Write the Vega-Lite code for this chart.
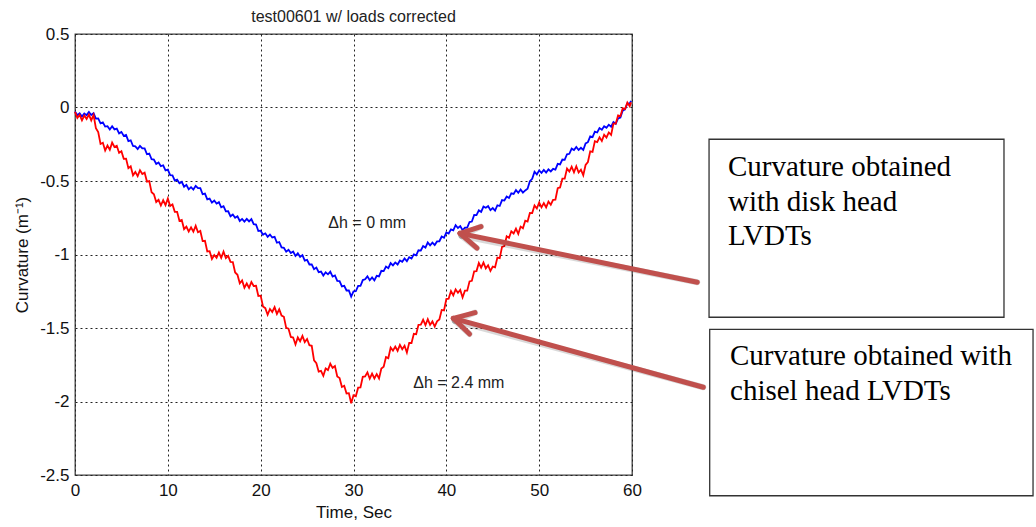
{
"$schema": "https://vega.github.io/schema/vega-lite/v6.json",
"width": 557, "height": 441,
"autosize": {"type": "none"},
"padding": {"left": 75, "top": 34, "right": 404, "bottom": 52},
"background": "white",
"config": {"view": {"stroke": "#404040", "strokeWidth": 1.3}, "font": "Liberation Sans"},
"title": {"text": "test00601 w/ loads corrected", "fontSize": 16, "fontWeight": "normal", "color": "#222222", "offset": 0, "font": "Liberation Sans"},
"datasets": {
"disk": [
{"t":0,"c":-0.028},{"t":0.25,"c":-0.052},{"t":0.5,"c":-0.039},{"t":0.75,"c":-0.061},{"t":1,"c":-0.041},{"t":1.25,"c":-0.052},{"t":1.5,"c":-0.031},{"t":1.75,"c":-0.051},
{"t":2,"c":-0.039},{"t":2.25,"c":-0.075},{"t":2.5,"c":-0.074},{"t":2.75,"c":-0.108},{"t":3,"c":-0.101},{"t":3.25,"c":-0.130},{"t":3.5,"c":-0.127},{"t":3.75,"c":-0.150},
{"t":4,"c":-0.128},{"t":4.25,"c":-0.149},{"t":4.5,"c":-0.144},{"t":4.75,"c":-0.176},{"t":5,"c":-0.166},{"t":5.25,"c":-0.193},{"t":5.5,"c":-0.187},{"t":5.75,"c":-0.228},
{"t":6,"c":-0.223},{"t":6.25,"c":-0.262},{"t":6.5,"c":-0.264},{"t":6.75,"c":-0.283},{"t":7,"c":-0.261},{"t":7.25,"c":-0.278},{"t":7.5,"c":-0.278},{"t":7.75,"c":-0.318},
{"t":8,"c":-0.313},{"t":8.25,"c":-0.352},{"t":8.5,"c":-0.354},{"t":8.75,"c":-0.384},{"t":9,"c":-0.374},{"t":9.25,"c":-0.399},{"t":9.5,"c":-0.393},{"t":9.75,"c":-0.428},
{"t":10,"c":-0.423},{"t":10.25,"c":-0.460},{"t":10.5,"c":-0.461},{"t":10.75,"c":-0.497},{"t":11,"c":-0.491},{"t":11.25,"c":-0.515},{"t":11.5,"c":-0.506},{"t":11.75,"c":-0.539},
{"t":12,"c":-0.526},{"t":12.25,"c":-0.557},{"t":12.5,"c":-0.542},{"t":12.75,"c":-0.558},{"t":13,"c":-0.533},{"t":13.25,"c":-0.549},{"t":13.5,"c":-0.549},{"t":13.75,"c":-0.590},
{"t":14,"c":-0.586},{"t":14.25,"c":-0.625},{"t":14.5,"c":-0.620},{"t":14.75,"c":-0.647},{"t":15,"c":-0.633},{"t":15.25,"c":-0.654},{"t":15.5,"c":-0.644},{"t":15.75,"c":-0.679},
{"t":16,"c":-0.671},{"t":16.25,"c":-0.707},{"t":16.5,"c":-0.706},{"t":16.75,"c":-0.740},{"t":17,"c":-0.728},{"t":17.25,"c":-0.750},{"t":17.5,"c":-0.740},{"t":17.75,"c":-0.772},
{"t":18,"c":-0.758},{"t":18.25,"c":-0.776},{"t":18.5,"c":-0.758},{"t":18.75,"c":-0.775},{"t":19,"c":-0.759},{"t":19.25,"c":-0.794},{"t":19.5,"c":-0.796},{"t":19.75,"c":-0.840},
{"t":20,"c":-0.838},{"t":20.25,"c":-0.865},{"t":20.5,"c":-0.856},{"t":20.75,"c":-0.880},{"t":21,"c":-0.864},{"t":21.25,"c":-0.884},{"t":21.5,"c":-0.880},{"t":21.75,"c":-0.920},
{"t":22,"c":-0.915},{"t":22.25,"c":-0.952},{"t":22.5,"c":-0.954},{"t":22.75,"c":-0.981},{"t":23,"c":-0.968},{"t":23.25,"c":-0.990},{"t":23.5,"c":-0.980},{"t":23.75,"c":-1.010},
{"t":24,"c":-0.992},{"t":24.25,"c":-1.016},{"t":24.5,"c":-1.004},{"t":24.75,"c":-1.041},{"t":25,"c":-1.036},{"t":25.25,"c":-1.068},{"t":25.5,"c":-1.067},{"t":25.75,"c":-1.100},
{"t":26,"c":-1.089},{"t":26.25,"c":-1.120},{"t":26.5,"c":-1.116},{"t":26.75,"c":-1.143},{"t":27,"c":-1.121},{"t":27.25,"c":-1.135},{"t":27.5,"c":-1.117},{"t":27.75,"c":-1.150},
{"t":28,"c":-1.143},{"t":28.25,"c":-1.180},{"t":28.5,"c":-1.181},{"t":28.75,"c":-1.217},{"t":29,"c":-1.213},{"t":29.25,"c":-1.245},{"t":29.5,"c":-1.245},{"t":29.75,"c":-1.286},
{"t":30,"c":-1.251},{"t":30.25,"c":-1.250},{"t":30.5,"c":-1.214},{"t":30.75,"c":-1.214},{"t":31,"c":-1.174},{"t":31.25,"c":-1.169},{"t":31.5,"c":-1.149},{"t":31.75,"c":-1.175},
{"t":32,"c":-1.156},{"t":32.25,"c":-1.176},{"t":32.5,"c":-1.145},{"t":32.75,"c":-1.149},{"t":33,"c":-1.111},{"t":33.25,"c":-1.113},{"t":33.5,"c":-1.082},{"t":33.75,"c":-1.093},
{"t":34,"c":-1.058},{"t":34.25,"c":-1.074},{"t":34.5,"c":-1.054},{"t":34.75,"c":-1.068},{"t":35,"c":-1.041},{"t":35.25,"c":-1.050},{"t":35.5,"c":-1.027},{"t":35.75,"c":-1.045},
{"t":36,"c":-1.018},{"t":36.25,"c":-1.027},{"t":36.5,"c":-0.999},{"t":36.75,"c":-1.006},{"t":37,"c":-0.971},{"t":37.25,"c":-0.973},{"t":37.5,"c":-0.942},{"t":37.75,"c":-0.953},
{"t":38,"c":-0.918},{"t":38.25,"c":-0.937},{"t":38.5,"c":-0.919},{"t":38.75,"c":-0.936},{"t":39,"c":-0.911},{"t":39.25,"c":-0.910},{"t":39.5,"c":-0.878},{"t":39.75,"c":-0.886},
{"t":40,"c":-0.850},{"t":40.25,"c":-0.857},{"t":40.5,"c":-0.829},{"t":40.75,"c":-0.836},{"t":41,"c":-0.801},{"t":41.25,"c":-0.820},{"t":41.5,"c":-0.807},{"t":41.75,"c":-0.835},
{"t":42,"c":-0.818},{"t":42.25,"c":-0.817},{"t":42.5,"c":-0.779},{"t":42.75,"c":-0.776},{"t":43,"c":-0.731},{"t":43.25,"c":-0.732},{"t":43.5,"c":-0.700},{"t":43.75,"c":-0.710},
{"t":44,"c":-0.674},{"t":44.25,"c":-0.682},{"t":44.5,"c":-0.671},{"t":44.75,"c":-0.698},{"t":45,"c":-0.684},{"t":45.25,"c":-0.701},{"t":45.5,"c":-0.665},{"t":45.75,"c":-0.670},
{"t":46,"c":-0.630},{"t":46.25,"c":-0.633},{"t":46.5,"c":-0.606},{"t":46.75,"c":-0.616},{"t":47,"c":-0.584},{"t":47.25,"c":-0.588},{"t":47.5,"c":-0.561},{"t":47.75,"c":-0.580},
{"t":48,"c":-0.558},{"t":48.25,"c":-0.579},{"t":48.5,"c":-0.564},{"t":48.75,"c":-0.553},{"t":49,"c":-0.501},{"t":49.25,"c":-0.485},{"t":49.5,"c":-0.437},{"t":49.75,"c":-0.455},
{"t":50,"c":-0.428},{"t":50.25,"c":-0.444},{"t":50.5,"c":-0.424},{"t":50.75,"c":-0.443},{"t":51,"c":-0.421},{"t":51.25,"c":-0.435},{"t":51.5,"c":-0.417},{"t":51.75,"c":-0.423},
{"t":52,"c":-0.383},{"t":52.25,"c":-0.387},{"t":52.5,"c":-0.354},{"t":52.75,"c":-0.356},{"t":53,"c":-0.318},{"t":53.25,"c":-0.315},{"t":53.5,"c":-0.280},{"t":53.75,"c":-0.290},
{"t":54,"c":-0.268},{"t":54.25,"c":-0.289},{"t":54.5,"c":-0.274},{"t":54.75,"c":-0.289},{"t":55,"c":-0.244},{"t":55.25,"c":-0.236},{"t":55.5,"c":-0.196},{"t":55.75,"c":-0.201},
{"t":56,"c":-0.164},{"t":56.25,"c":-0.170},{"t":56.5,"c":-0.140},{"t":56.75,"c":-0.151},{"t":57,"c":-0.127},{"t":57.25,"c":-0.138},{"t":57.5,"c":-0.117},{"t":57.75,"c":-0.131},
{"t":58,"c":-0.099},{"t":58.25,"c":-0.111},{"t":58.5,"c":-0.074},{"t":58.75,"c":-0.068},{"t":59,"c":-0.021},{"t":59.25,"c":-0.013},{"t":59.5,"c":0.027},{"t":59.75,"c":0.026},
{"t":59.9,"c":0.045}
],
"chisel": [
{"t":0,"c":-0.030},{"t":0.25,"c":-0.071},{"t":0.5,"c":-0.050},{"t":0.75,"c":-0.087},{"t":1,"c":-0.055},{"t":1.25,"c":-0.078},{"t":1.5,"c":-0.048},{"t":1.75,"c":-0.088},
{"t":2,"c":-0.050},{"t":2.25,"c":-0.140},{"t":2.5,"c":-0.167},{"t":2.75,"c":-0.248},{"t":3,"c":-0.240},{"t":3.25,"c":-0.292},{"t":3.5,"c":-0.259},{"t":3.75,"c":-0.288},
{"t":4,"c":-0.239},{"t":4.25,"c":-0.269},{"t":4.5,"c":-0.260},{"t":4.75,"c":-0.309},{"t":5,"c":-0.298},{"t":5.25,"c":-0.349},{"t":5.5,"c":-0.348},{"t":5.75,"c":-0.413},
{"t":6,"c":-0.400},{"t":6.25,"c":-0.461},{"t":6.5,"c":-0.438},{"t":6.75,"c":-0.467},{"t":7,"c":-0.427},{"t":7.25,"c":-0.452},{"t":7.5,"c":-0.443},{"t":7.75,"c":-0.504},
{"t":8,"c":-0.501},{"t":8.25,"c":-0.577},{"t":8.5,"c":-0.590},{"t":8.75,"c":-0.643},{"t":9,"c":-0.628},{"t":9.25,"c":-0.667},{"t":9.5,"c":-0.631},{"t":9.75,"c":-0.664},
{"t":10,"c":-0.620},{"t":10.25,"c":-0.670},{"t":10.5,"c":-0.659},{"t":10.75,"c":-0.710},{"t":11,"c":-0.710},{"t":11.25,"c":-0.771},{"t":11.5,"c":-0.765},{"t":11.75,"c":-0.827},
{"t":12,"c":-0.810},{"t":12.25,"c":-0.844},{"t":12.5,"c":-0.815},{"t":12.75,"c":-0.845},{"t":13,"c":-0.805},{"t":13.25,"c":-0.849},{"t":13.5,"c":-0.840},{"t":13.75,"c":-0.909},
{"t":14,"c":-0.907},{"t":14.25,"c":-0.979},{"t":14.5,"c":-0.977},{"t":14.75,"c":-1.030},{"t":15,"c":-1.003},{"t":15.25,"c":-1.022},{"t":15.5,"c":-0.987},{"t":15.75,"c":-1.023},
{"t":16,"c":-0.980},{"t":16.25,"c":-1.025},{"t":16.5,"c":-1.009},{"t":16.75,"c":-1.050},{"t":17,"c":-1.052},{"t":17.25,"c":-1.122},{"t":17.5,"c":-1.138},{"t":17.75,"c":-1.196},
{"t":18,"c":-1.176},{"t":18.25,"c":-1.226},{"t":18.5,"c":-1.197},{"t":18.75,"c":-1.227},{"t":19,"c":-1.187},{"t":19.25,"c":-1.214},{"t":19.5,"c":-1.213},{"t":19.75,"c":-1.282},
{"t":20,"c":-1.280},{"t":20.25,"c":-1.354},{"t":20.5,"c":-1.365},{"t":20.75,"c":-1.410},{"t":21,"c":-1.371},{"t":21.25,"c":-1.391},{"t":21.5,"c":-1.358},{"t":21.75,"c":-1.404},
{"t":22,"c":-1.373},{"t":22.25,"c":-1.415},{"t":22.5,"c":-1.424},{"t":22.75,"c":-1.499},{"t":23,"c":-1.505},{"t":23.25,"c":-1.561},{"t":23.5,"c":-1.565},{"t":23.75,"c":-1.612},
{"t":24,"c":-1.564},{"t":24.25,"c":-1.590},{"t":24.5,"c":-1.554},{"t":24.75,"c":-1.596},{"t":25,"c":-1.575},{"t":25.25,"c":-1.617},{"t":25.5,"c":-1.621},{"t":25.75,"c":-1.720},
{"t":26,"c":-1.740},{"t":26.25,"c":-1.797},{"t":26.5,"c":-1.792},{"t":26.75,"c":-1.825},{"t":27,"c":-1.775},{"t":27.25,"c":-1.786},{"t":27.5,"c":-1.743},{"t":27.75,"c":-1.771},
{"t":28,"c":-1.759},{"t":28.25,"c":-1.830},{"t":28.5,"c":-1.840},{"t":28.75,"c":-1.901},{"t":29,"c":-1.893},{"t":29.25,"c":-1.945},{"t":29.5,"c":-1.943},{"t":29.75,"c":-2.012},
{"t":30,"c":-1.957},{"t":30.25,"c":-1.964},{"t":30.5,"c":-1.906},{"t":30.75,"c":-1.904},{"t":31,"c":-1.832},{"t":31.25,"c":-1.829},{"t":31.5,"c":-1.802},{"t":31.75,"c":-1.845},
{"t":32,"c":-1.810},{"t":32.25,"c":-1.843},{"t":32.5,"c":-1.814},{"t":32.75,"c":-1.843},{"t":33,"c":-1.776},{"t":33.25,"c":-1.764},{"t":33.5,"c":-1.698},{"t":33.75,"c":-1.705},
{"t":34,"c":-1.633},{"t":34.25,"c":-1.654},{"t":34.5,"c":-1.626},{"t":34.75,"c":-1.655},{"t":35,"c":-1.615},{"t":35.25,"c":-1.644},{"t":35.5,"c":-1.621},{"t":35.75,"c":-1.667},
{"t":36,"c":-1.601},{"t":36.25,"c":-1.602},{"t":36.5,"c":-1.540},{"t":36.75,"c":-1.543},{"t":37,"c":-1.478},{"t":37.25,"c":-1.477},{"t":37.5,"c":-1.444},{"t":37.75,"c":-1.481},
{"t":38,"c":-1.440},{"t":38.25,"c":-1.479},{"t":38.5,"c":-1.455},{"t":38.75,"c":-1.490},{"t":39,"c":-1.455},{"t":39.25,"c":-1.442},{"t":39.5,"c":-1.377},{"t":39.75,"c":-1.380},
{"t":40,"c":-1.303},{"t":40.25,"c":-1.300},{"t":40.5,"c":-1.249},{"t":40.75,"c":-1.278},{"t":41,"c":-1.238},{"t":41.25,"c":-1.260},{"t":41.5,"c":-1.241},{"t":41.75,"c":-1.292},
{"t":42,"c":-1.246},{"t":42.25,"c":-1.246},{"t":42.5,"c":-1.183},{"t":42.75,"c":-1.179},{"t":43,"c":-1.115},{"t":43.25,"c":-1.113},{"t":43.5,"c":-1.058},{"t":43.75,"c":-1.090},
{"t":44,"c":-1.055},{"t":44.25,"c":-1.094},{"t":44.5,"c":-1.073},{"t":44.75,"c":-1.112},{"t":45,"c":-1.082},{"t":45.25,"c":-1.087},{"t":45.5,"c":-1.021},{"t":45.75,"c":-1.025},
{"t":46,"c":-0.948},{"t":46.25,"c":-0.943},{"t":46.5,"c":-0.876},{"t":46.75,"c":-0.887},{"t":47,"c":-0.842},{"t":47.25,"c":-0.857},{"t":47.5,"c":-0.824},{"t":47.75,"c":-0.860},
{"t":48,"c":-0.810},{"t":48.25,"c":-0.821},{"t":48.5,"c":-0.770},{"t":48.75,"c":-0.776},{"t":49,"c":-0.717},{"t":49.25,"c":-0.718},{"t":49.5,"c":-0.666},{"t":49.75,"c":-0.687},
{"t":50,"c":-0.646},{"t":50.25,"c":-0.679},{"t":50.5,"c":-0.650},{"t":50.75,"c":-0.680},{"t":51,"c":-0.640},{"t":51.25,"c":-0.661},{"t":51.5,"c":-0.628},{"t":51.75,"c":-0.627},
{"t":52,"c":-0.549},{"t":52.25,"c":-0.544},{"t":52.5,"c":-0.484},{"t":52.75,"c":-0.484},{"t":53,"c":-0.415},{"t":53.25,"c":-0.436},{"t":53.5,"c":-0.403},{"t":53.75,"c":-0.441},
{"t":54,"c":-0.400},{"t":54.25,"c":-0.442},{"t":54.5,"c":-0.423},{"t":54.75,"c":-0.461},{"t":55,"c":-0.391},{"t":55.25,"c":-0.371},{"t":55.5,"c":-0.298},{"t":55.75,"c":-0.302},
{"t":56,"c":-0.229},{"t":56.25,"c":-0.235},{"t":56.5,"c":-0.203},{"t":56.75,"c":-0.228},{"t":57,"c":-0.185},{"t":57.25,"c":-0.204},{"t":57.5,"c":-0.170},{"t":57.75,"c":-0.186},
{"t":58,"c":-0.110},{"t":58.25,"c":-0.110},{"t":58.5,"c":-0.054},{"t":58.75,"c":-0.059},{"t":59,"c":-0.005},{"t":59.25,"c":-0.011},{"t":59.5,"c":0.034},{"t":59.75,"c":0.009},
{"t":59.9,"c":0.035}
],
"boxes": [
{"t":68.30,"t2":100.07,"c":-0.216,"c2":-1.427},
{"t":68.37,"t2":103.2,"c":-1.509,"c2":-2.641}
],
"arrows": [
{"t":41.47,"c":-0.856,"t2":67.03,"c2":-1.189},
{"t":41.47,"c":-0.856,"t2":43.73,"c2":-0.810},
{"t":41.47,"c":-0.856,"t2":43.30,"c2":-0.956},
{"t":40.75,"c":-1.434,"t2":67.68,"c2":-1.903},
{"t":40.75,"c":-1.434,"t2":43.09,"c2":-1.395},
{"t":40.75,"c":-1.434,"t2":42.50,"c2":-1.541}
],
"notes": [
{"t":27.29,"c":-0.822,"label":"Δh = 0 mm"},
{"t":36.44,"c":-1.91,"label":"Δh = 2.4 mm"}
],
"boxtext": [
{"t":70.34,"c":-0.466,"label":"Curvature obtained\nwith disk head\nLVDTs"},
{"t":70.56,"c":-1.752,"label":"Curvature obtained with\nchisel head LVDTs"}
]
},
"encoding": {
"x": {"field": "t", "type": "quantitative",
"scale": {"domain": [0, 60], "nice": false, "zero": false},
"axis": {"title": "Time, Sec", "values": [0, 10, 20, 30, 40, 50, 60], "labelExpr": "'' + datum.value", "grid": true, "gridDash": [2, 3], "gridColor": "#222222", "gridOpacity": 1, "gridWidth": 1, "ticks": false, "domain": false, "labelFontSize": 17, "labelColor": "#111111", "labelPadding": 7, "labelFlush": false, "titleFontSize": 17, "titleFontWeight": "normal", "titleColor": "#111111", "titlePadding": 6, "labelFont": "Liberation Sans", "titleFont": "Liberation Sans"}},
"y": {"field": "c", "type": "quantitative",
"scale": {"domain": [-2.5, 0.5], "nice": false, "zero": false},
"axis": {"title": "Curvature (m⁻¹)", "values": [0.5, 0, -0.5, -1, -1.5, -2, -2.5], "labelExpr": "'' + datum.value", "grid": true, "gridDash": [2, 3], "gridColor": "#222222", "gridOpacity": 1, "gridWidth": 1, "ticks": false, "domain": false, "labelFontSize": 17, "labelColor": "#111111", "labelPadding": 6, "labelFlush": false, "titleFontSize": 17, "titleFontWeight": "normal", "titleColor": "#111111", "titlePadding": 8, "labelFont": "Liberation Sans", "titleFont": "Liberation Sans"}}
},
"layer": [
{"data": {"name": "disk"}, "mark": {"type": "line", "color": "#0000ff", "strokeWidth": 1.8}},
{"data": {"name": "chisel"}, "mark": {"type": "line", "color": "#ff0000", "strokeWidth": 1.8}},
{"data": {"name": "notes"}, "mark": {"type": "text", "align": "left", "baseline": "alphabetic", "fontSize": 16, "font": "Liberation Sans", "color": "#222222"}, "encoding": {"text": {"field": "label"}}},
{"data": {"name": "boxes"}, "mark": {"type": "rect", "fill": "white", "stroke": "#333333", "strokeWidth": 1.3}, "encoding": {"x2": {"field": "t2"}, "y2": {"field": "c2"}}},
{"data": {"name": "boxtext"}, "mark": {"type": "text", "align": "left", "baseline": "alphabetic", "fontSize": 29, "font": "Liberation Serif", "color": "#000000", "lineBreak": "\n", "lineHeight": 34.5}, "encoding": {"text": {"field": "label"}}},
{"data": {"name": "arrows"}, "mark": {"type": "rule", "color": "#000000", "opacity": 0.15, "strokeWidth": 6, "strokeCap": "round", "xOffset": 1.5, "yOffset": 2.5}, "encoding": {"x2": {"field": "t2"}, "y2": {"field": "c2"}}},
{"data": {"name": "arrows"}, "mark": {"type": "rule", "color": "#c0504d", "strokeWidth": 5, "strokeCap": "round"}, "encoding": {"x2": {"field": "t2"}, "y2": {"field": "c2"}}}
]
}
